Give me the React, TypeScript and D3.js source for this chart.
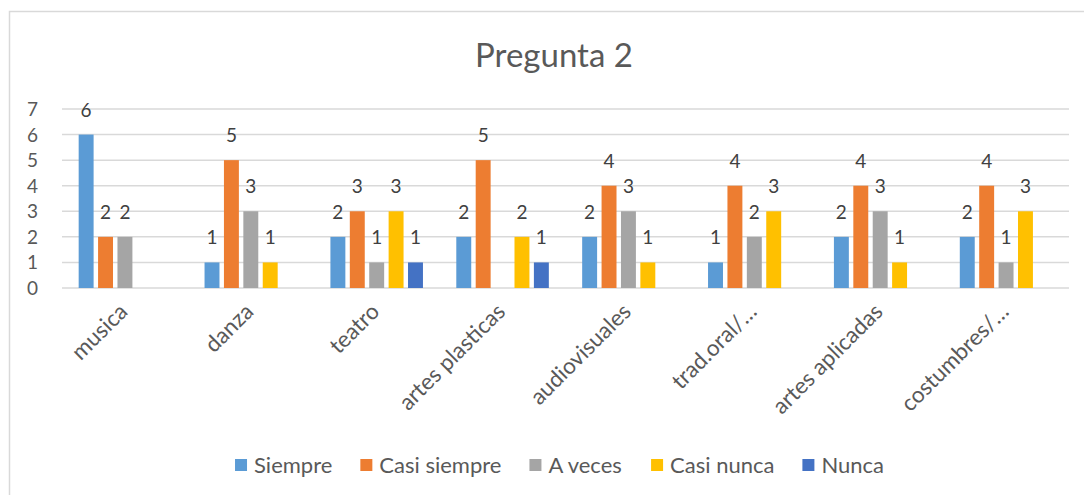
import React from "react";
import * as d3 from "d3";

const title = "Pregunta 2";
const categories = [
  "musica",
  "danza",
  "teatro",
  "artes plasticas",
  "audiovisuales",
  "trad.oral/…",
  "artes aplicadas",
  "costumbres/…",
];
const seriesNames = ["Siempre", "Casi siempre", "A veces", "Casi nunca", "Nunca"];
const seriesColors = ["#5B9BD5", "#ED7D31", "#A5A5A5", "#FFC000", "#4472C4"];
const siempre = [6, 1, 2, 2, 2, 1, 2, 2];
const casiSiempre = [2, 5, 3, 5, 4, 4, 4, 4];
const aVeces = [2, 3, 1, null, 3, 2, 3, 1];
const casiNunca = [null, 1, 3, 2, 1, 3, 1, 3];
const nunca = [null, null, 1, 1, null, null, null, null];
const yTicks = [0, 1, 2, 3, 4, 5, 6, 7];

const seriesValues: (number | null)[][] = [siempre, casiSiempre, aVeces, casiNunca, nunca];

const W = 1084;
const H = 495;
const FONT = "Lato, 'Open Sans', sans-serif";
const TXT = "#595959";

function measure(text: string, font: string): number {
  const c = document.createElement("canvas");
  const ctx = c.getContext("2d");
  if (!ctx) return text.length * 10;
  ctx.font = font;
  return ctx.measureText(text).width;
}

export default function App() {
  const plotLeft = 62;
  const plotRight = 1069;
  const plotTop = 109;
  const plotBottom = 288;

  const x0 = d3.scaleBand<string>().domain(categories).range([plotLeft, plotRight]);
  const slot = 19.4;
  const x1 = d3
    .scaleBand<string>()
    .domain(seriesNames)
    .range([-slot * 2.5, slot * 2.5])
    .paddingInner(0.23)
    .paddingOuter(0.115);
  const y = d3.scaleLinear().domain([0, 7]).range([plotBottom, plotTop]);

  const numSize = 19;
  const legendFontSize = 22;
  const legendFont = `${legendFontSize}px Lato`;
  const sq = 12;
  const sqToText = 19;
  const itemGap = 28;
  const widths = seriesNames.map((s) => measure(s, legendFont));
  const total =
    widths.reduce((a, b) => a + b, 0) + seriesNames.length * sqToText + (seriesNames.length - 1) * itemGap;
  let cursor = 559.5 - total / 2;
  const legendItems = seriesNames.map((s, i) => {
    const item = { name: s, color: seriesColors[i], x: cursor };
    cursor += sqToText + widths[i] + itemGap;
    return item;
  });
  const legendY = 465;

  return (
    <svg width={W} height={H} style={{ position: "absolute", left: 0, top: 0, background: "#fff" }}>
      <rect x={9.5} y={11.5} width={1100} height={500} fill="#fff" stroke="#d9d9d9" strokeWidth={1.5} />
      <text x={554} y={67} textAnchor="middle" fontFamily={FONT} fontSize={33} fill={TXT}>
        {title}
      </text>
      {yTicks.map((t) => (
        <g key={t}>
          <line x1={plotLeft} x2={plotRight} y1={y(t)} y2={y(t)} stroke="#d9d9d9" strokeWidth={1.5} />
          <text x={38} y={y(t) + 7} textAnchor="end" fontFamily={FONT} fontSize={numSize} fill={TXT}>
            {t}
          </text>
        </g>
      ))}
      {categories.map((c, ci) => {
        const cx = (x0(c) as number) + x0.bandwidth() / 2;
        return (
          <g key={c}>
            {seriesNames.map((s, si) => {
              const v = seriesValues[si][ci];
              if (v === null || v === undefined) return null;
              const bx = cx + (x1(s) as number);
              return (
                <g key={s}>
                  <rect
                    x={bx}
                    y={y(v)}
                    width={x1.bandwidth()}
                    height={y(0) - y(v)}
                    fill={seriesColors[si]}
                  />
                  <text
                    x={bx + x1.bandwidth() / 2}
                    y={y(v) - 18}
                    textAnchor="middle"
                    fontFamily={FONT}
                    fontSize={numSize}
                    fill="#404040"
                  >
                    {v}
                  </text>
                </g>
              );
            })}
            <text
              transform={`translate(${cx + 4},${plotBottom + 25}) rotate(-45)`}
              textAnchor="end"
              fontFamily={FONT}
              fontSize={22.5}
              fill={TXT}
            >
              {c}
            </text>
          </g>
        );
      })}
      {legendItems.map((it) => (
        <g key={it.name}>
          <rect x={it.x} y={legendY - sq / 2} width={sq} height={sq} fill={it.color} />
          <text x={it.x + sqToText} y={legendY + 8} fontFamily={FONT} fontSize={legendFontSize} fill={TXT}>
            {it.name}
          </text>
        </g>
      ))}
    </svg>
  );
}
